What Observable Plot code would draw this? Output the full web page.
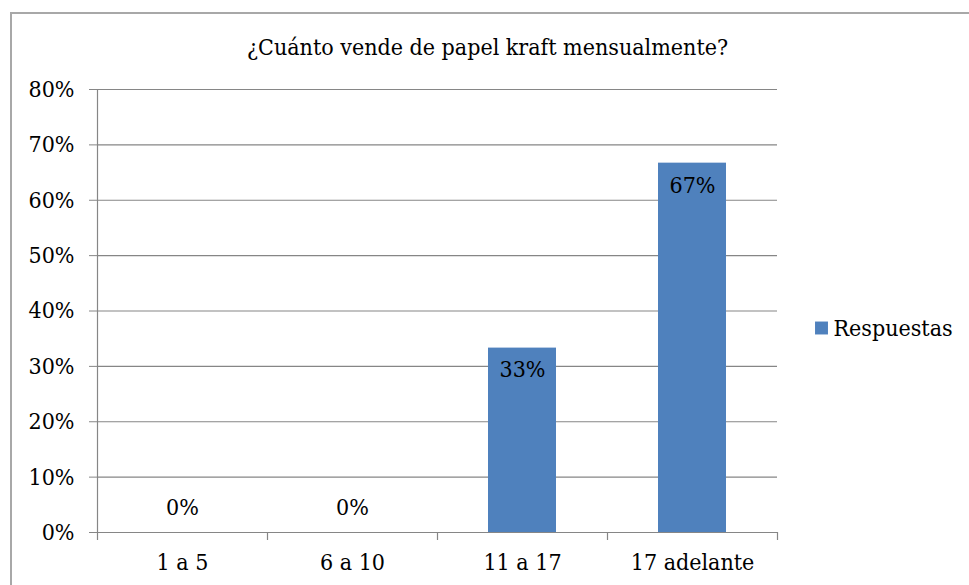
<!DOCTYPE html>
<html><head><meta charset="utf-8">
<script src="https://cdn.jsdelivr.net/npm/d3@7"></script>
<script src="https://cdn.jsdelivr.net/npm/@observablehq/plot@0.6"></script>
<style>
body{margin:0;background:#fff;}
#wrap{position:relative;width:969px;height:585px;overflow:hidden;color:#000;background:#fff;}
#border{position:absolute;left:10px;top:12px;width:1000px;height:1000px;border-left:2px solid #a8a8a8;border-top:2px solid #a8a8a8;box-sizing:border-box;}
#chart{position:absolute;left:0;top:0;}
</style>
</head><body>
<div id="wrap">
  <div id="border"></div>
  <div id="chart"></div>
</div>
<script>
const titleText = "¿Cuánto vende de papel kraft mensualmente?";
const categories = ["1 a 5", "6 a 10", "11 a 17", "17 adelante"];
const values = [0, 0, 0.333, 0.667];
const valueLabels = ["0%", "0%", "33%", "67%"];
const yTicks = [0, 0.1, 0.2, 0.3, 0.4, 0.5, 0.6, 0.7, 0.8];
const seriesName = "Respuestas";

const data = categories.map((c, i) => ({cat: c, value: values[i], label: valueLabels[i]}));
const gray = "#868686";
const blue = "#4F81BD";
const font = "'DejaVu Serif', serif";

const chart = Plot.plot({
  width: 969,
  height: 585,
  marginLeft: 97,
  marginRight: 192,
  marginTop: 89,
  marginBottom: 53,
  style: {fontFamily: font, fontStretch: "condensed", fontSize: "23px", color: "#000", background: "transparent"},
  x: {domain: categories, paddingInner: 0.6, paddingOuter: 0.3, label: null},
  y: {domain: [0, 0.8], label: null},
  marks: [
    Plot.gridY(yTicks, {stroke: gray, strokeOpacity: 1, strokeWidth: 1.2}),
    Plot.barY(data, {x: "cat", y: "value", fill: blue}),
    Plot.ruleY([0], {stroke: gray, strokeWidth: 1.2}),
    Plot.frame({anchor: "left", stroke: gray, strokeWidth: 1.2}),
    Plot.ruleX(categories, {x: d => d, dx: -85, y1: 0, y2: 0, insetBottom: -8, stroke: gray, strokeWidth: 1.2}),
    Plot.ruleX([categories[categories.length - 1]], {x: d => d, dx: 85, y1: 0, y2: 0, insetBottom: -8, stroke: gray, strokeWidth: 1.2}),
    Plot.axisY(yTicks, {tickSize: 8, tickPadding: 15, tickFormat: d3.format(".0%"), stroke: gray, fill: "#000", fontSize: 23}),
    Plot.axisX({tickSize: 0, tickPadding: 21, fill: "#000", fontSize: 23}),
    Plot.text(data.filter(d => d.value > 0), {x: "cat", y: "value", text: "label", dy: 22, fill: "#000", fontSize: 23}),
    Plot.text(data.filter(d => d.value === 0), {x: "cat", y: "value", text: "label", dy: -25, fill: "#000", fontSize: 23}),
    Plot.text([titleText], {text: d => d, frameAnchor: "top", textAnchor: "middle", lineAnchor: "middle", dx: 50, dy: -42, fill: "#000", fontSize: 23}),
    Plot.dot([seriesName], {frameAnchor: "right", symbol: "square", r: 7.3, dx: 44, dy: 17, fill: blue, stroke: "none"}),
    Plot.text([seriesName], {text: d => d, frameAnchor: "right", textAnchor: "start", lineAnchor: "middle", dx: 56, dy: 18, fill: "#000", fontSize: 23})
  ]
});
document.getElementById("chart").appendChild(chart);
</script>
</body></html>
